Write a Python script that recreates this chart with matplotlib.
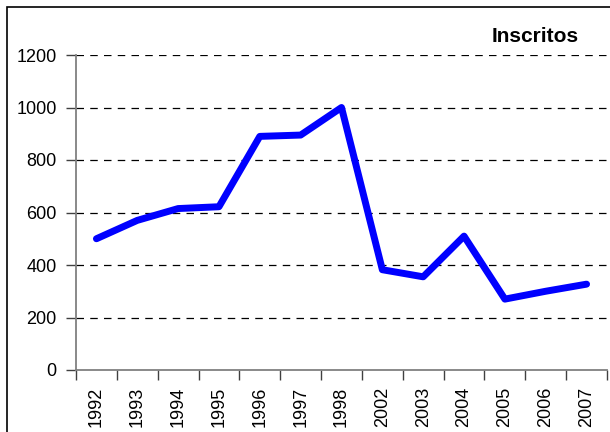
import matplotlib.pyplot as plt
from matplotlib.patches import Rectangle

plt.rcParams['font.family'] = ['Liberation Sans', 'DejaVu Sans']

years = ['1992', '1993', '1994', '1995', '1996', '1997', '1998',
         '2002', '2003', '2004', '2005', '2006', '2007']
inscritos = [500, 570, 615, 622, 890, 895, 1000, 382, 355, 510, 270, 300, 327]
yticks = [0, 200, 400, 600, 800, 1000, 1200]

fig = plt.figure(figsize=(6.1, 4.32), dpi=100)
ax = fig.add_axes([76 / 610, 1 - 370 / 432, (607 - 76) / 610, (370 - 55) / 432])

x = list(range(len(years)))
ax.plot(x, inscritos, color='#0000FF', linewidth=5, solid_capstyle='round',
        solid_joinstyle='round', zorder=3)

ax.set_xlim(-0.5, len(years) - 0.5)
ax.set_ylim(0, 1200)

# category labels at centres, tick marks between categories (Excel style)
ax.set_xticks(x)
ax.set_xticklabels(years, rotation=90, fontsize=13)
ax.set_xticks([i - 0.5 for i in range(len(years) + 1)], minor=True)
ax.tick_params(axis='x', which='major', length=0, pad=12)
ax.tick_params(axis='x', which='minor', length=7, width=1, color='#404040',
               direction='out')

ax.set_yticks(yticks)
ax.set_yticklabels([str(v) for v in yticks], fontsize=13)
ax.tick_params(axis='y', length=7, width=1, color='#404040', pad=7)

for v in yticks[1:]:
    ax.axhline(v, color='black', linewidth=0.9, dashes=(6, 5), zorder=1)

for s in ['top', 'right']:
    ax.spines[s].set_visible(False)
for s in ['left', 'bottom']:
    ax.spines[s].set_color('#808080')
    ax.spines[s].set_linewidth(1.3)

fig.text(535 / 610, 1 - 36 / 432, 'Inscritos', fontsize=15,
         fontweight='bold', ha='center', va='center')

# outer chart border
fig.patches.append(Rectangle((7 / 610, -0.05), 1.1, 1 - 7 / 432 + 0.05,
                             transform=fig.transFigure, fill=False,
                             edgecolor='black', linewidth=1.2))

fig.savefig('out.png', dpi=100)
